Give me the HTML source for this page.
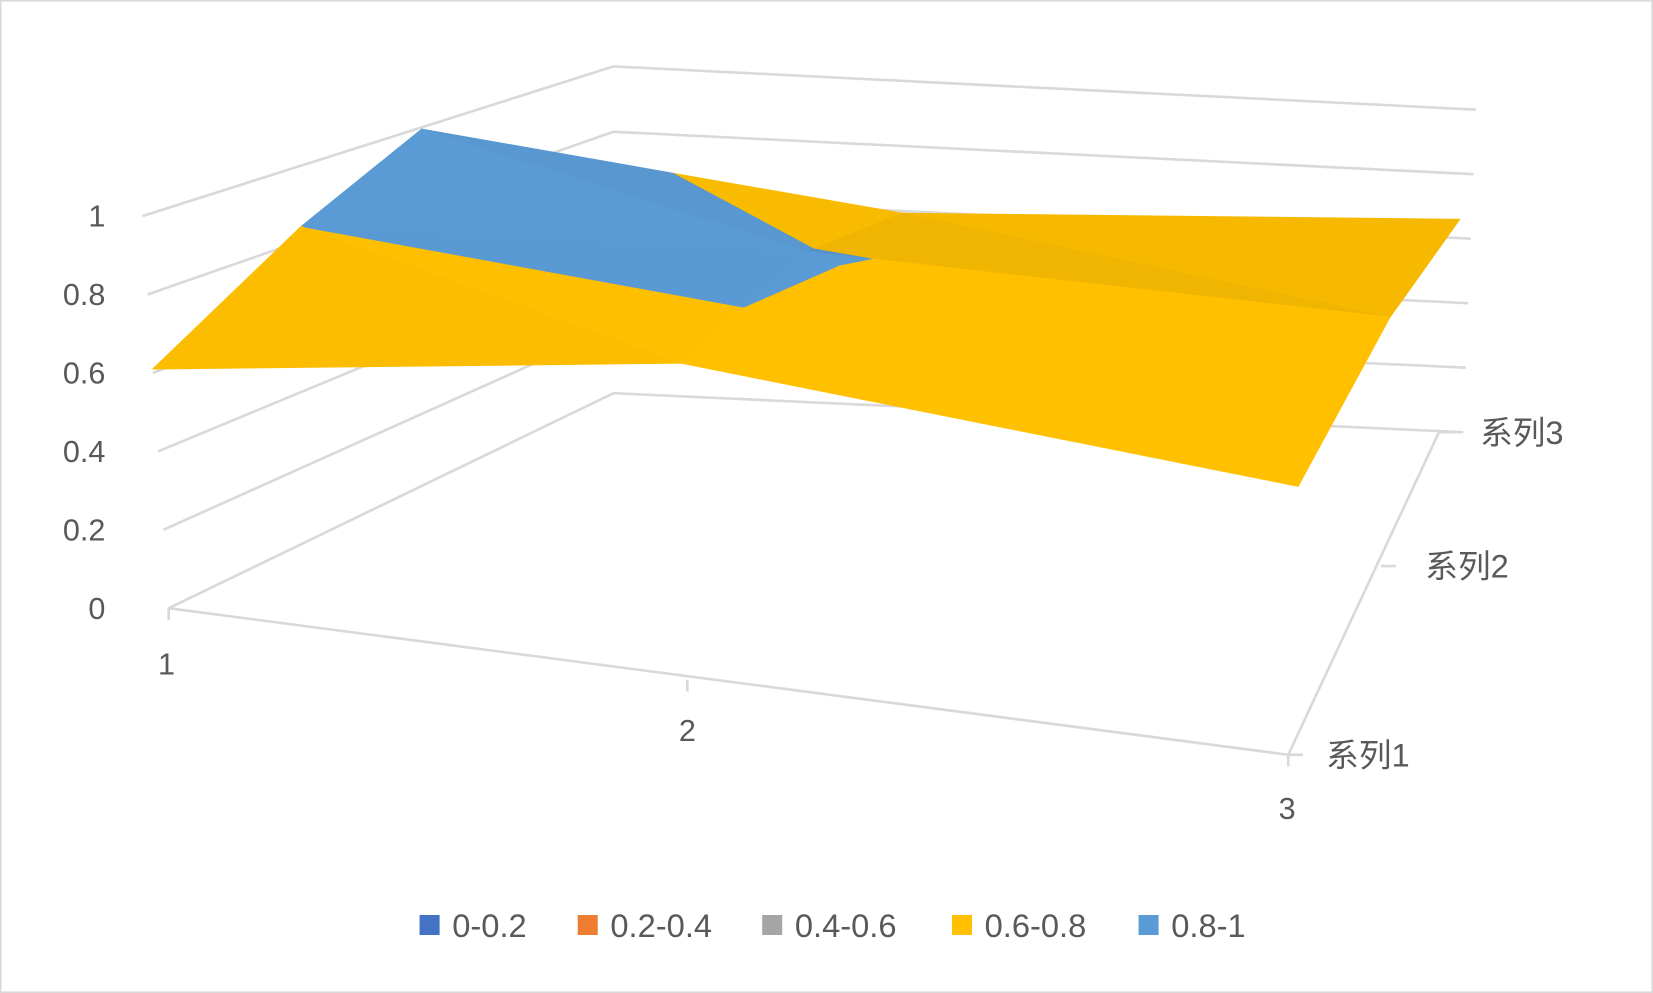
<!DOCTYPE html>
<html><head><meta charset="utf-8"><style>
html,body{margin:0;padding:0;background:#fff;}
svg{display:block;}
text{font-family:"Liberation Sans","Noto Sans CJK SC",sans-serif;fill:#595959;font-size:29px;}
</style></head><body>
<svg id="chart" width="1653" height="993" viewBox="0 0 1568 942" preserveAspectRatio="none" xmlns="http://www.w3.org/2000/svg">
<rect x="0.5" y="0.5" width="1567" height="941" fill="#fff" stroke="#D9D9D9" stroke-width="2"/>
<g id="grid" stroke="#D9D9D9" stroke-width="2.5" fill="none"></g>
<g id="surface"></g>
<g id="axes" stroke="#D9D9D9" stroke-width="2.5" fill="none"></g>
<g id="labels"></g>
<g id="legend"></g>
</svg>
<script>
const categories = ['1','2','3'];
const seriesNames = ['系列1','系列2','系列3'];
const series1 = [0.61, 0.79, 0.67];
const series2 = [0.80, 0.81, 0.72];
const series3 = [0.93, 0.68, 0.66];
const valueTicks = ['0','0.2','0.4','0.6','0.8','1'];
const bandNames = ['0-0.2','0.2-0.4','0.4-0.6','0.6-0.8','0.8-1'];
const bandColors = ['#4472C4','#ED7D31','#A5A5A5','#FFC000','#5B9BD5'];

const NS='http://www.w3.org/2000/svg';
const rows=[series1,series2,series3];
function mk(tag,attrs,parent){const e=document.createElementNS(NS,tag);for(const k in attrs)e.setAttribute(k,attrs[k]);parent.appendChild(e);return e;}

const FL=[160,577],FR=[1222,716],BL=[400,420],BR=[1365,410];
function uPos(i){const n=categories.length-1;const t=i/n;return t<0.5? t/0.5*0.463 : 0.463+(t-0.5)/0.5*0.537;}
function dPos(j){const n=seriesNames.length-1;const t=j/n;return t<0.5? t/0.5*0.56 : 0.56+(t-0.5)/0.5*0.44;}
function bil(a,b,c,d,u,w){return a*(1-u)*(1-w)+b*u*(1-w)+c*(1-u)*w+d*u*w;}
function project(ci,sj,v){
  const u=uPos(ci), d=dPos(sj);
  const x=bil(FL[0],FR[0],BL[0],BR[0],u,d), y=bil(FL[1],FR[1],BL[1],BR[1],u,d);
  const sc=bil(372,380,320,306,u,d), sh=bil(-25,14,0,30,u,d);
  return [x+sh*v, y-sc*v];
}

const grid=document.getElementById('grid');
valueTicks.forEach((t,k)=>{
  const v=parseFloat(t);
  const l=mk('line',{x1:160-25*v,y1:577-372*v,x2:582,y2:373-310*v},grid);
  
  
  const b=mk('line',{x1:582,y1:373-310*v,x2:1388+12*v,y2:410-306*v},grid);
  
  
  const lab=mk('text',{x:100,y:577-372*v+10,'text-anchor':'end'},document.getElementById('labels'));
  lab.textContent=t;
  
  
});

const surf=document.getElementById('surface');
function clip(poly,lo,hi){
  function cut(p,val,keepAbove){
    const out=[];
    for(let i=0;i<p.length;i++){
      const a=p[i],b=p[(i+1)%p.length];
      const ina=keepAbove? a[2]>=val : a[2]<=val;
      const inb=keepAbove? b[2]>=val : b[2]<=val;
      if(ina) out.push(a);
      if(ina!==inb){const t=(val-a[2])/(b[2]-a[2]);out.push([a[0]+t*(b[0]-a[0]),a[1]+t*(b[1]-a[1]),val]);}
    }
    return out;
  }
  let p=cut(poly,lo,true); if(p.length<3)return p; return cut(p,hi,false);
}
function shade(hex,f){const n=parseInt(hex.slice(1),16);const r=Math.round(((n>>16)&255)*f),g=Math.round(((n>>8)&255)*f),b=Math.round((n&255)*f);return `rgb(${r},${g},${b})`;}
function brightness(t){
  const P=t.map(p=>[uPos(p[0])*3,dPos(p[1])*2,p[2]*3]);
  const a=[P[1][0]-P[0][0],P[1][1]-P[0][1],P[1][2]-P[0][2]],b=[P[2][0]-P[0][0],P[2][1]-P[0][1],P[2][2]-P[0][2]];
  let n=[a[1]*b[2]-a[2]*b[1],a[2]*b[0]-a[0]*b[2],a[0]*b[1]-a[1]*b[0]];
  const m=Math.hypot(...n); n=n.map(x=>x/m); if(n[2]<0)n=n.map(x=>-x);
  const L=[0.55,-0.6,0.58]; const dot=n[0]*L[0]+n[1]*L[1]+n[2]*L[2];
  return 0.86+0.14*Math.max(0,Math.min(1,dot*1.6));
}
for(let j=rows.length-2;j>=0;j--){
  for(let i=0;i<categories.length-1;i++){
    const p00=[i,j,rows[j][i]],p10=[i+1,j,rows[j][i+1]],p01=[i,j+1,rows[j+1][i]],p11=[i+1,j+1,rows[j+1][i+1]];
    const tris=[[p01,p11,p10],[p01,p10,p00]];
    tris.forEach(tri=>{
      const br=brightness(tri);
      for(let k=0;k<bandNames.length;k++){
        const lo=k*0.2,hi=(k+1)*0.2;
        const poly=clip(tri,lo,hi);
        if(poly.length<3)continue;
        const pts=poly.map(p=>project(p[0],p[1],p[2]).map(x=>x.toFixed(1)).join(',')).join(' ');
        const col=shade(bandColors[k],br);
        const el=mk('polygon',{points:pts,fill:col,stroke:col,'stroke-width':0.8,'stroke-linejoin':'round'},surf);
        
        
      }
    });
  }
}

const axes=document.getElementById('axes');
[[160,577,1222,716],[1222,716,1365,410],[160,577,160,588],[652,645,652,656],[1222,716,1222,727],[1222,716,1236,716],[1310,537,1324,537],[1365,410,1380,410]].forEach(a=>{
  const l=mk('line',{x1:a[0],y1:a[1],x2:a[2],y2:a[3]},axes);
  
  
});
const labels=document.getElementById('labels');
[[158,640],[652,703],[1221,777]].forEach((p,i)=>{
  const t=mk('text',{x:p[0],y:p[1],'text-anchor':'middle'},labels);
  t.textContent=categories[i];
  
  
});
[[1258,727],[1352,548],[1404,421]].forEach((p,i)=>{
  const t=mk('text',{x:p[0],y:p[1],style:'font-size:31px'},labels);
  t.textContent=seriesNames[i];
  
  
});

const legend=document.getElementById('legend');
const lx=[398,548,723,903,1080];
bandNames.forEach((n,i)=>{
  const g=mk('g',{},legend);
  
  
  mk('rect',{x:lx[i],y:868,width:19,height:19,fill:bandColors[i]},g);
  const t=mk('text',{x:lx[i]+31,y:889,style:'font-size:31px'},g);
  t.textContent=n;
});
</script>
</body></html>
